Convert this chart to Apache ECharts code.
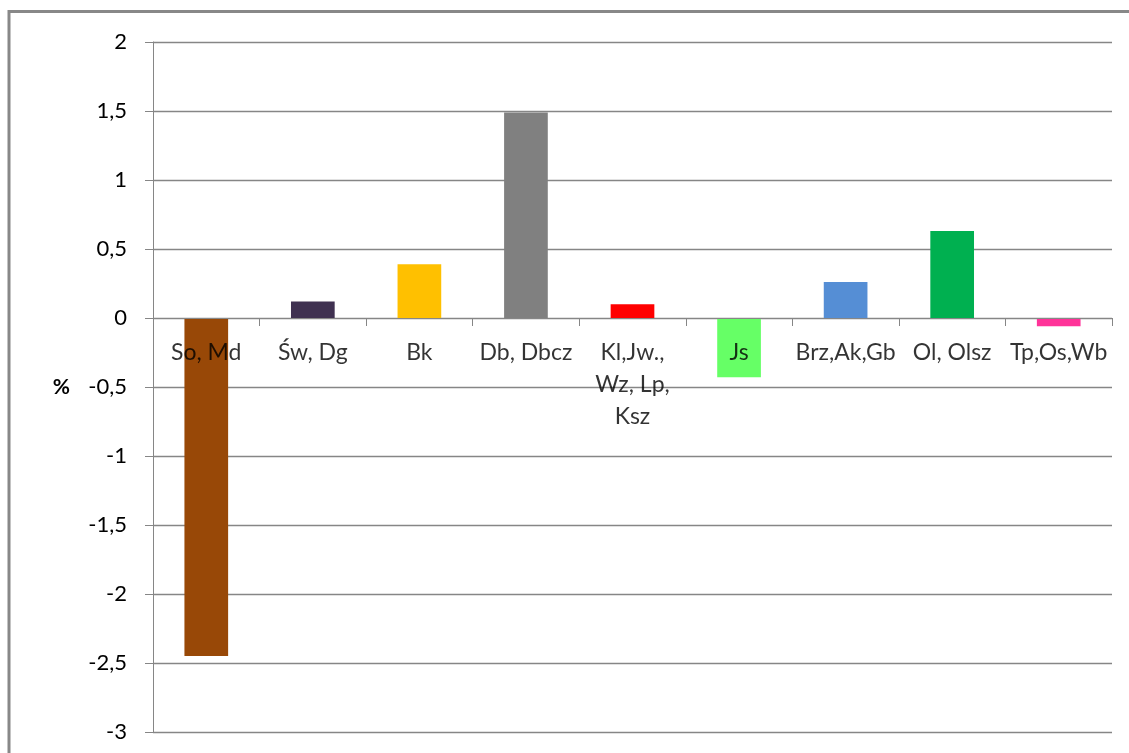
<!DOCTYPE html>
<html>
<head>
<meta charset="utf-8">
<style>
  html, body { margin: 0; padding: 0; background: #fff; }
  #chart { width: 1129px; height: 753px; }
</style>
<script src="https://cdn.jsdelivr.net/npm/echarts@6/dist/echarts.min.js"></script>
</head>
<body>
<div id="chart"></div>
<script>
// Change per group of species, in percent
const categories = ['So, Md', 'Św, Dg', 'Bk', 'Db, Dbcz', 'Kl,Jw.,\nWz, Lp,\nKsz', 'Js', 'Brz,Ak,Gb', 'Ol, Olsz', 'Tp,Os,Wb'];
const values = [-2.45, 0.12, 0.39, 1.49, 0.10, -0.43, 0.26, 0.63, -0.06];
const barColors = ['#984807', '#403151', '#FFC000', '#808080', '#FF0000', '#66FF66', '#558ED5', '#00B050', '#FF3399'];
const yTicks = { min: -3, max: 2, interval: 0.5 };

const FONT = 'Lato, "Open Sans", sans-serif';
const GREY = '#868686';

const chart = echarts.init(document.getElementById('chart'), null, { renderer: 'canvas' });

chart.setOption({
  animation: false,
  backgroundColor: '#ffffff',
  grid: { left: 153, right: 17, top: 42, bottom: 21, containLabel: false, outerBoundsMode: 'none' },
  graphic: [{
    type: 'rect',
    shape: { x: 9, y: 11.5, width: 1200, height: 800 },
    style: { fill: 'none', stroke: '#888888', lineWidth: 3 },
    silent: true
  }],
  xAxis: {
    type: 'category',
    data: categories,
    z: 10,
    axisLine: { onZero: true, onZeroAxisIndex: 0, lineStyle: { color: GREY, width: 1 } },
    axisTick: { show: true, length: 8, lineStyle: { color: GREY } },
    axisLabel: { show: false },
    splitLine: { show: false }
  },
  yAxis: {
    type: 'value',
    min: yTicks.min,
    max: yTicks.max,
    interval: yTicks.interval,
    name: '%',
    nameLocation: 'middle',
    nameRotate: 0,
    nameGap: 83,
    nameTextStyle: { color: '#000', fontFamily: FONT, fontSize: 21, fontWeight: 'bold', padding: [6, 0, 0, 0] },
    axisLine: { show: true, lineStyle: { color: GREY, width: 1 } },
    axisTick: { show: true, length: 8, lineStyle: { color: GREY } },
    axisLabel: {
      margin: 26,
      color: '#000',
      fontFamily: FONT,
      fontSize: 22,
      formatter: v => String(v).replace('.', ',')
    },
    splitLine: { show: true, lineStyle: { color: GREY, width: 1.3 } }
  },
  series: [{
    type: 'bar',
    data: values.map((v, i) => ({ value: v, itemStyle: { color: barColors[i] } })),
    barWidth: '41%'
  }, {
    // category names sit just under the zero line, drawn above the bars
    type: 'scatter',
    silent: true,
    z: 20,
    symbolSize: 1,
    itemStyle: { color: 'rgba(0,0,0,0)' },
    data: categories.map((c, i) => [i, 0]),
    label: {
      show: true,
      position: 'bottom',
      distance: 18,
      align: 'center',
      verticalAlign: 'top',
      formatter: p => categories[p.dataIndex],
      color: '#000',
      fontFamily: FONT,
      fontSize: 23,
      lineHeight: 32
    }
  }]
});
</script>
</body>
</html>
